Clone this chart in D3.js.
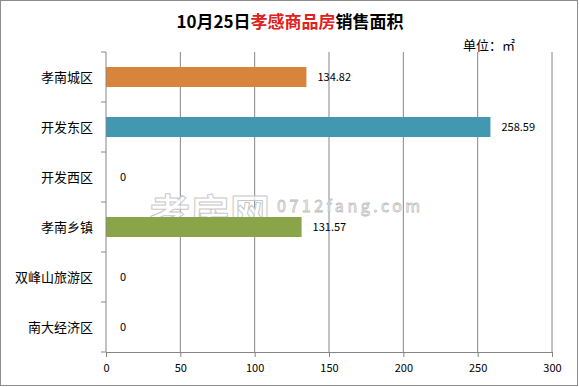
<!DOCTYPE html>
<html>
<head>
<meta charset="utf-8">
<script src="https://cdn.jsdelivr.net/npm/d3@7"></script>
<style>
  body { margin: 0; background: #fff; }
  svg text { font-family: "Noto Sans CJK SC", "DejaVu Sans", sans-serif; }
</style>
</head>
<body>
<script>
const categories = ["孝南城区", "开发东区", "开发西区", "孝南乡镇", "双峰山旅游区", "南大经济区"];
const values = [134.82, 258.59, 0, 131.57, 0, 0];
const barColors = ["#d9843c", "#4298b0", "#8aa44a", "#8aa44a", "#8aa44a", "#8aa44a"];
const xTicks = [0, 50, 100, 150, 200, 250, 300];

const width = 579, height = 387;
const margin = { top: 52, right: 27, bottom: 35, left: 106 };

const svg = d3.select("body").append("svg")
  .attr("width", width).attr("height", height);

svg.append("rect")
  .attr("x", 0.5).attr("y", 0.5)
  .attr("width", width - 2).attr("height", height - 2)
  .attr("fill", "#fff").attr("stroke", "#8c8c8c");

const x = d3.scaleLinear().domain([0, 300]).range([margin.left, width - margin.right]);
const y = d3.scaleBand().domain(categories)
  .range([margin.top, height - margin.bottom]).paddingInner(0.6).paddingOuter(0.3);
const band = d3.scaleBand().domain(categories).range([margin.top, height - margin.bottom]);

// grid
svg.append("g").selectAll("line").data(xTicks.slice(1)).enter().append("line")
  .attr("x1", d => x(d)).attr("x2", d => x(d))
  .attr("y1", margin.top).attr("y2", height - margin.bottom)
  .attr("stroke", "#868686").attr("stroke-width", 1);

// title
const title = svg.append("text").attr("x", 290).attr("y", 28)
  .attr("text-anchor", "middle").attr("font-size", 17).attr("font-weight", "bold");
title.append("tspan").text("10月25日").attr("fill", "#000");
title.append("tspan").text("孝感商品房").attr("fill", "#e02020");
title.append("tspan").text("销售面积").attr("fill", "#000");

svg.append("text").attr("x", 463).attr("y", 50)
  .attr("font-size", 13).text("单位：㎡");

// watermark
svg.append("text").attr("x", 150).attr("y", 228)
  .attr("font-size", 40).attr("font-weight", "bold")
  .attr("fill", "#fff").attr("fill-opacity", 0.75)
  .attr("stroke", "#c8c8c8").attr("stroke-width", 1)
  .text("孝房网");
svg.append("text").attr("x", 277).attr("y", 212)
  .attr("font-size", 16).attr("letter-spacing", 3.5)
  .attr("font-family", "Liberation Serif, serif")
  .attr("fill", "#fff").attr("fill-opacity", 0.75)
  .attr("stroke", "#c0c0c0").attr("stroke-width", 0.8)
  .text("0712fang.com");

// bars
svg.append("g").selectAll("rect").data(values).enter().append("rect")
  .attr("x", x(0))
  .attr("y", (d, i) => y(categories[i]))
  .attr("width", d => x(d) - x(0))
  .attr("height", y.bandwidth())
  .attr("fill", (d, i) => barColors[i]);

// value labels
svg.append("g").selectAll("text").data(values).enter().append("text")
  .attr("x", d => x(d) + (d > 0 ? 11 : 14))
  .attr("y", (d, i) => y(categories[i]) + y.bandwidth() / 2 + 4)
  .attr("font-size", 11).attr("font-family", "DejaVu Sans, sans-serif")
  .text(d => d === 0 ? "0" : d.toFixed(2));

// y axis
const yAxis = svg.append("g");
yAxis.append("line").attr("x1", x(0)).attr("x2", x(0))
  .attr("y1", margin.top).attr("y2", height - margin.bottom).attr("stroke", "#868686");
yAxis.selectAll(".tk").data(categories.concat([null])).enter().append("line")
  .attr("x1", x(0) - 5).attr("x2", x(0))
  .attr("y1", (d, i) => margin.top + i * band.bandwidth())
  .attr("y2", (d, i) => margin.top + i * band.bandwidth())
  .attr("stroke", "#868686");
yAxis.selectAll("text").data(categories).enter().append("text")
  .attr("x", 93).attr("y", d => band(d) + band.bandwidth() / 2 + 5)
  .attr("text-anchor", "end").attr("font-size", 13).text(d => d);

// x axis
const xAxis = svg.append("g").attr("transform", `translate(0,${height - margin.bottom})`)
  .call(d3.axisBottom(x).tickValues(xTicks).tickSize(5).tickSizeOuter(0));
xAxis.select(".domain").attr("stroke", "#868686");
xAxis.selectAll(".tick line").attr("stroke", "#868686");
xAxis.selectAll("text").attr("font-size", 11).attr("dy", "1.05em")
  .attr("font-family", "DejaVu Sans, sans-serif").attr("fill", "#000");
</script>
</body>
</html>
